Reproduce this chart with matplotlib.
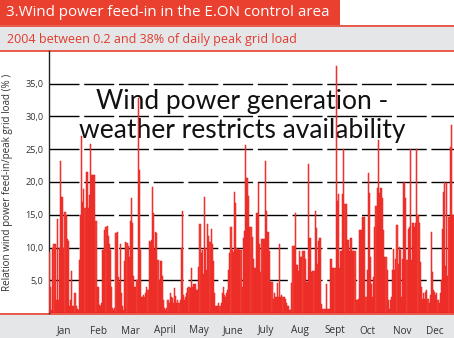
import matplotlib
matplotlib.use("Agg")
import matplotlib.pyplot as plt
import numpy as np
from matplotlib.patches import Rectangle
from matplotlib.lines import Line2D

plt.rcParams['lines.scale_dashes'] = False

# ---------------- data (daily values, 2004, % of daily peak grid load) -------------
jan_feb = [9.3, 4.0, 0.5, 10.0, 10.5, 10.5, 2.0, 14.3, 2.0, 10.0,
           23.2, 17.7, 17.7, 10.0, 15.4, 15.0, 11.3, 11.0, 1.0, 2.0,
           6.4, 1.0, 1.0, 3.0, 1.0, 0.6, 0.5, 8.1, 15.0, 27.0,
           17.0, 19.0, 16.0, 21.5, 21.5, 16.0, 18.0, 25.8, 21.0, 21.0,
           21.0, 21.0, 14.0, 4.0, 4.0, 1.2, 1.0, 1.5, 9.6, 9.6,
           12.7, 13.2, 13.3, 11.8, 10.6, 9.6, 4.0, 0.8, 0.5, 0.8]
mar_apr = [12.2, 12.4, 5.5, 4.7, 10.5, 3.0, 1.0, 0.5, 8.0, 10.8,
           10.7, 10.2, 8.6, 14.0, 17.6, 13.8, 5.7, 4.0, 4.0, 5.0,
           32.8, 21.8, 9.6, 2.5, 2.5, 2.7, 2.5, 3.0, 4.0, 3.5,
           11.0, 10.9, 11.1, 19.3, 15.3, 9.8, 12.3, 12.2, 8.1, 5.0,
           8.0, 7.9, 5.6, 2.0, 0.8, 0.5, 0.8, 2.0, 1.5, 3.0,
           2.5, 2.3, 1.5, 3.8, 2.6, 1.5, 2.0, 1.5, 2.0, 9.9, 15.6]
may_jun = [2.8, 2.0, 2.5, 3.0, 3.8, 4.0, 3.8, 6.9, 4.0, 4.5,
           4.5, 4.5, 3.5, 3.5, 7.0, 13.6, 9.1, 9.6, 6.0, 17.7,
           9.9, 6.5, 13.6, 11.8, 10.8, 12.8, 10.5, 8.0, 3.0, 1.0,
           1.0, 1.0, 1.5, 1.0, 1.5, 3.0, 4.0, 2.8, 2.5, 3.0,
           3.5, 6.5, 9.1, 13.1, 9.6, 9.3, 18.5, 16.8, 9.9, 9.6,
           9.8, 9.6, 9.6, 4.0, 11.5, 12.5, 25.6, 20.6, 20.6, 17.8, 13.1]
jul_aug = [13.1, 11.6, 8.2, 6.9, 6.9, 15.3, 15.3, 19.9, 10.5, 6.2,
           11.3, 11.3, 11.3, 23.2, 15.6, 12.3, 12.3, 9.5, 4.7, 4.7,
           2.2, 3.0, 2.5, 2.5, 4.6, 2.5, 10.5, 2.5, 2.7, 2.5,
           2.5, 2.2, 1.5, 1.0, 1.0, 0.5, 0.5, 4.6, 10.2, 10.2,
           15.3, 7.4, 7.4, 6.4, 9.5, 8.5, 8.5, 9.5, 9.5, 8.2,
           4.7, 4.7, 22.7, 11.5, 11.5, 6.2, 6.4, 6.4, 15.6, 13.0, 7.5, 11.0]
sep_oct = [11.5, 11.5, 1.4, 0.6, 0.6, 0.6, 4.5, 0.6, 0.6, 0.6,
           8.2, 8.2, 6.9, 6.9, 6.9, 37.7, 17.1, 18.1, 6.9, 9.5,
           9.5, 18.1, 25.0, 16.6, 16.6, 11.2, 11.2, 9.5, 11.5, 11.5,
           9.5, 9.4, 9.4, 2.0, 2.0, 2.2, 12.7, 12.7, 12.7, 14.7,
           14.7, 14.7, 2.4, 6.5, 21.3, 18.3, 8.6, 4.5, 2.4, 5.5,
           13.2, 16.3, 19.1, 26.4, 18.3, 19.1, 19.1, 17.6, 12.7, 8.6, 8.6]
nov_dec = [6.5, 2.0, 0.6, 2.0, 2.4, 6.5, 9.8, 6.5, 8.2, 13.4,
           7.5, 10.1, 9.6, 2.4, 8.3, 19.8, 20.0, 17.5, 8.1, 12.9,
           13.2, 25.0, 8.1, 13.7, 13.7, 13.2, 13.7, 25.0, 14.9, 13.7,
           7.8, 4.0, 2.2, 3.0, 2.2, 3.2, 3.5, 2.2, 1.6, 2.7,
           12.4, 6.3, 3.5, 3.2, 2.7, 3.0, 2.0, 1.5, 3.0, 5.1,
           12.9, 18.5, 20.0, 7.1, 19.8, 5.6, 14.7, 25.4, 28.7, 14.9, 14.9]

months = ["Jan", "Feb", "Mar", "April", "May", "June", "July", "Aug",
          "Sept", "Oct", "Nov", "Dec"]
month_days = [31, 29, 31, 30, 31, 30, 31, 31, 30, 31, 30, 31]
yticks = [5, 10, 15, 20, 25, 30, 35]
ytick_labels = ["5,0", "10,0", "15,0", "20,0", "25,0", "30,0", "35,0"]

title = "3.Wind power feed-in in the E.ON control area"
subtitle = "2004 between 0.2 and 38% of daily peak grid load"
overlay = "Wind power generation -\nweather restricts availability"
ylabel = "Relation wind power feed-in/peak grid load (% )"

values = np.array(jan_feb + mar_apr + may_jun + jul_aug + sep_oct + nov_dec)
days = np.arange(len(values))
ndays = sum(month_days)

# ---------------- styling ----------------
RED = "#e9402f"
BAR_FILL = "#f04a3a"
BAR_EDGE = "#ea1c1f"
GRAY = "#e5e6e8"
FONT = "Open Sans"

W, H = 454, 338
fig = plt.figure(figsize=(W / 100, H / 100), dpi=100)

def fx(px):
    return px / W

def fy(py):
    return 1 - py / H

# background bands
fig.patches.append(Rectangle((0, fy(25)), fx(340), 25 / H, transform=fig.transFigure,
                             facecolor=RED, edgecolor="none", zorder=-3))
fig.patches.append(Rectangle((0, fy(51)), 1, 26 / H, transform=fig.transFigure,
                             facecolor=GRAY, edgecolor="none", zorder=-3))
fig.patches.append(Rectangle((0, 0), 1, 25 / H, transform=fig.transFigure,
                             facecolor=GRAY, edgecolor="none", zorder=-3))
for py in (25.5, 51, 313.5):
    fig.lines.append(Line2D([0, 1], [fy(py), fy(py)], transform=fig.transFigure,
                            color=RED, lw=1.2, zorder=-2))

fig.text(fx(6), fy(13), title, color="white", fontsize=10.9, family=FONT,
         va="center", ha="left")
fig.text(fx(7), fy(39), subtitle, color="#e23a2c", fontsize=9.0, family=FONT,
         va="center", ha="left")

ax = fig.add_axes([fx(49), fy(313), fx(405), (313 - 51) / H])
ax.set_xlim(0, ndays)
ax.set_ylim(0, 40)
ax.patch.set_alpha(0)

for y in yticks:
    ax.axhline(y, color="black", lw=1.0, linestyle=(0, (21.6, 3.4)), zorder=1)

ax.text(0.477, 0.752, overlay, transform=ax.transAxes, ha="center", va="center",
        fontsize=19.0, family="Lato", color="#111111", linespacing=1.2, zorder=2)

ax.bar(days, values, width=1.0, align="edge", color=BAR_FILL, edgecolor=BAR_EDGE,
       linewidth=0.35, zorder=3)

ax.set_yticks(yticks)
ax.set_yticklabels(ytick_labels, family=FONT, fontsize=6.6, color="#333333")
ax.tick_params(axis="y", length=0, pad=4)

starts = np.cumsum([0] + month_days[:-1])
ax.set_xticks(starts + 14)
ax.set_xticklabels(months, family=FONT, fontsize=7.2, color="#333333")
ax.tick_params(axis="x", length=0, pad=9)

for s in ("top", "right", "bottom"):
    ax.spines[s].set_visible(False)
ax.spines["left"].set_color("#222222")
ax.spines["left"].set_linewidth(1.0)

fig.text(fx(8), fy(182), ylabel, rotation=90, family=FONT, fontsize=7.1,
         color="#333333", ha="center", va="center")

fig.savefig("out.png", dpi=100)
